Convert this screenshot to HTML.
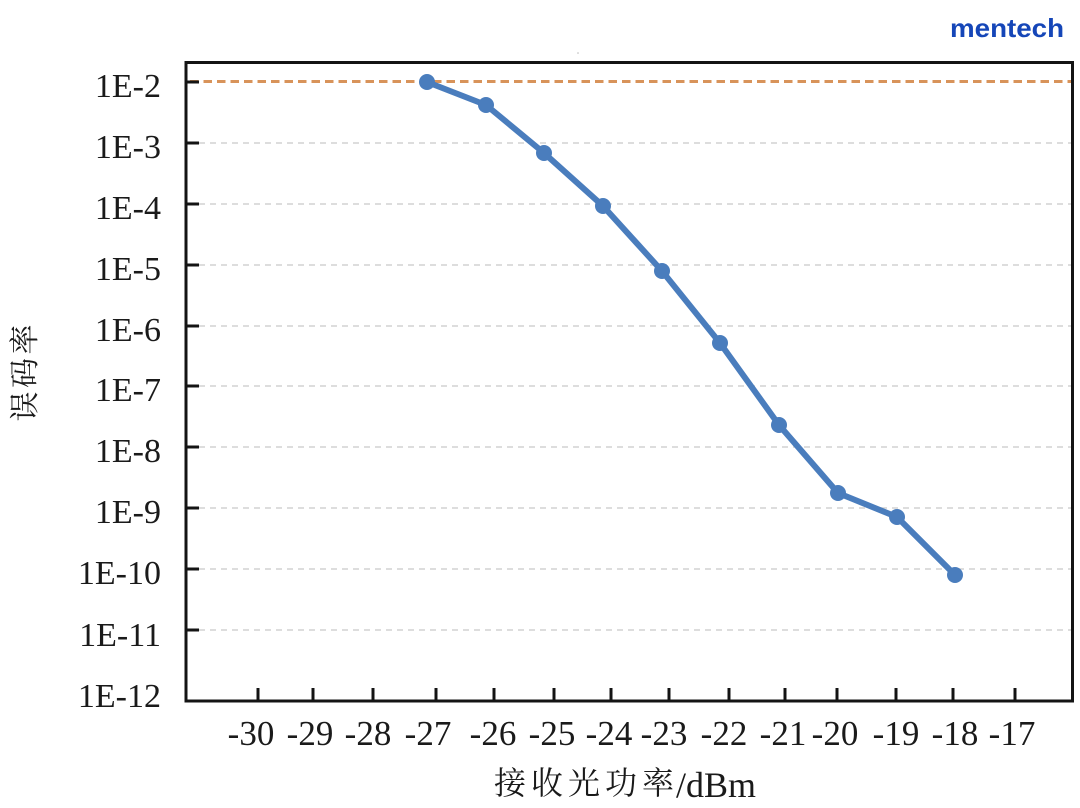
<!DOCTYPE html>
<html>
<head>
<meta charset="utf-8">
<style>
  html, body { margin: 0; padding: 0; background: #ffffff; }
  body { width: 1080px; height: 808px; overflow: hidden; }
  svg { display: block; }
</style>
</head>
<body>
<svg width="1080" height="808" viewBox="0 0 1080 808" xmlns="http://www.w3.org/2000/svg">
  <rect x="0" y="0" width="1080" height="808" fill="#ffffff"/>

  <!-- logo -->
  <text x="950" y="37" font-family="Liberation Sans, sans-serif" font-weight="bold" font-size="26" fill="#1546b8" textLength="114" lengthAdjust="spacingAndGlyphs">mentech</text>
  <circle cx="578" cy="53" r="0.8" fill="#bbbbbb"/>

  <!-- gridlines -->
  <g stroke="#d2d2d2" stroke-width="1.6" stroke-dasharray="6 5" fill="none">
    <line x1="199" y1="143" x2="1071" y2="143"/>
    <line x1="199" y1="204" x2="1071" y2="204"/>
    <line x1="199" y1="265" x2="1071" y2="265"/>
    <line x1="199" y1="326" x2="1071" y2="326"/>
    <line x1="199" y1="386" x2="1071" y2="386"/>
    <line x1="199" y1="447" x2="1071" y2="447"/>
    <line x1="199" y1="508" x2="1071" y2="508"/>
    <line x1="199" y1="569" x2="1071" y2="569"/>
    <line x1="199" y1="630" x2="1071" y2="630"/>
  </g>

  <!-- orange threshold line -->
  <line x1="190" y1="81.5" x2="1071" y2="81.5" stroke="#d8935a" stroke-width="3" stroke-dasharray="8.5 5"/>

  <!-- frame -->
  <rect x="186" y="62.5" width="886.5" height="638.5" fill="none" stroke="#141414" stroke-width="3"/>

  <!-- y ticks -->
  <g stroke="#141414" stroke-width="3">
    <line x1="186" y1="82" x2="199" y2="82"/>
    <line x1="186" y1="143" x2="199" y2="143"/>
    <line x1="186" y1="204" x2="199" y2="204"/>
    <line x1="186" y1="265" x2="199" y2="265"/>
    <line x1="186" y1="326" x2="199" y2="326"/>
    <line x1="186" y1="386" x2="199" y2="386"/>
    <line x1="186" y1="447" x2="199" y2="447"/>
    <line x1="186" y1="508" x2="199" y2="508"/>
    <line x1="186" y1="569" x2="199" y2="569"/>
    <line x1="186" y1="630" x2="199" y2="630"/>
  </g>

  <!-- x ticks -->
  <g stroke="#141414" stroke-width="3">
    <line x1="258" y1="688" x2="258" y2="701"/>
    <line x1="313" y1="688" x2="313" y2="701"/>
    <line x1="373" y1="688" x2="373" y2="701"/>
    <line x1="436" y1="688" x2="436" y2="701"/>
    <line x1="494" y1="688" x2="494" y2="701"/>
    <line x1="554" y1="688" x2="554" y2="701"/>
    <line x1="611" y1="688" x2="611" y2="701"/>
    <line x1="669" y1="688" x2="669" y2="701"/>
    <line x1="729" y1="688" x2="729" y2="701"/>
    <line x1="785" y1="688" x2="785" y2="701"/>
    <line x1="837" y1="688" x2="837" y2="701"/>
    <line x1="896" y1="688" x2="896" y2="701"/>
    <line x1="953" y1="688" x2="953" y2="701"/>
    <line x1="1015" y1="688" x2="1015" y2="701"/>
  </g>

  <!-- y labels -->
  <g font-family="Liberation Serif, serif" font-size="34" fill="#1a1a1a" text-anchor="end">
    <text x="161" y="97">1E-2</text>
    <text x="161" y="158">1E-3</text>
    <text x="161" y="219">1E-4</text>
    <text x="161" y="280">1E-5</text>
    <text x="161" y="341">1E-6</text>
    <text x="161" y="401">1E-7</text>
    <text x="161" y="462">1E-8</text>
    <text x="161" y="523">1E-9</text>
    <text x="161" y="584">1E-10</text>
    <text x="161" y="646">1E-11</text>
    <text x="161" y="707">1E-12</text>
  </g>

  <!-- x labels -->
  <g font-family="Liberation Serif, serif" font-size="35" fill="#1a1a1a" text-anchor="middle">
    <text x="251" y="745">-30</text>
    <text x="310" y="745">-29</text>
    <text x="368" y="745">-28</text>
    <text x="428" y="745">-27</text>
    <text x="493" y="745">-26</text>
    <text x="552" y="745">-25</text>
    <text x="609" y="745">-24</text>
    <text x="664" y="745">-23</text>
    <text x="724" y="745">-22</text>
    <text x="783" y="745">-21</text>
    <text x="835" y="745">-20</text>
    <text x="896" y="745">-19</text>
    <text x="955" y="745">-18</text>
    <text x="1012" y="745">-17</text>
  </g>

  <!-- x axis title -->
  <text x="494" y="794" font-family="Liberation Serif, 'Noto Serif CJK SC', serif" font-size="32" fill="#1a1a1a" letter-spacing="5">接收光功率</text>
  <text x="676" y="797" font-family="Liberation Serif, serif" font-size="36" fill="#1a1a1a">/dBm</text>

  <!-- y axis title -->
  <text transform="translate(35,373) rotate(-90)" text-anchor="middle" font-family="Liberation Serif, 'Noto Serif CJK SC', serif" font-size="30" fill="#1a1a1a" textLength="97" lengthAdjust="spacing">误码率</text>

  <!-- series -->
  <polyline fill="none" stroke="#4a7dbd" stroke-width="6" stroke-linejoin="round" stroke-linecap="round"
    points="427,82 486,105 544,153 603,206 662,271 720,343 779,425 838,493 897,517 955,575"/>
  <g fill="#4a7dbd">
    <circle cx="427" cy="82" r="8"/>
    <circle cx="486" cy="105" r="8"/>
    <circle cx="544" cy="153" r="8"/>
    <circle cx="603" cy="206" r="8"/>
    <circle cx="662" cy="271" r="8"/>
    <circle cx="720" cy="343" r="8"/>
    <circle cx="779" cy="425" r="8"/>
    <circle cx="838" cy="493" r="8"/>
    <circle cx="897" cy="517" r="8"/>
    <circle cx="955" cy="575" r="8"/>
  </g>
</svg>
</body>
</html>
